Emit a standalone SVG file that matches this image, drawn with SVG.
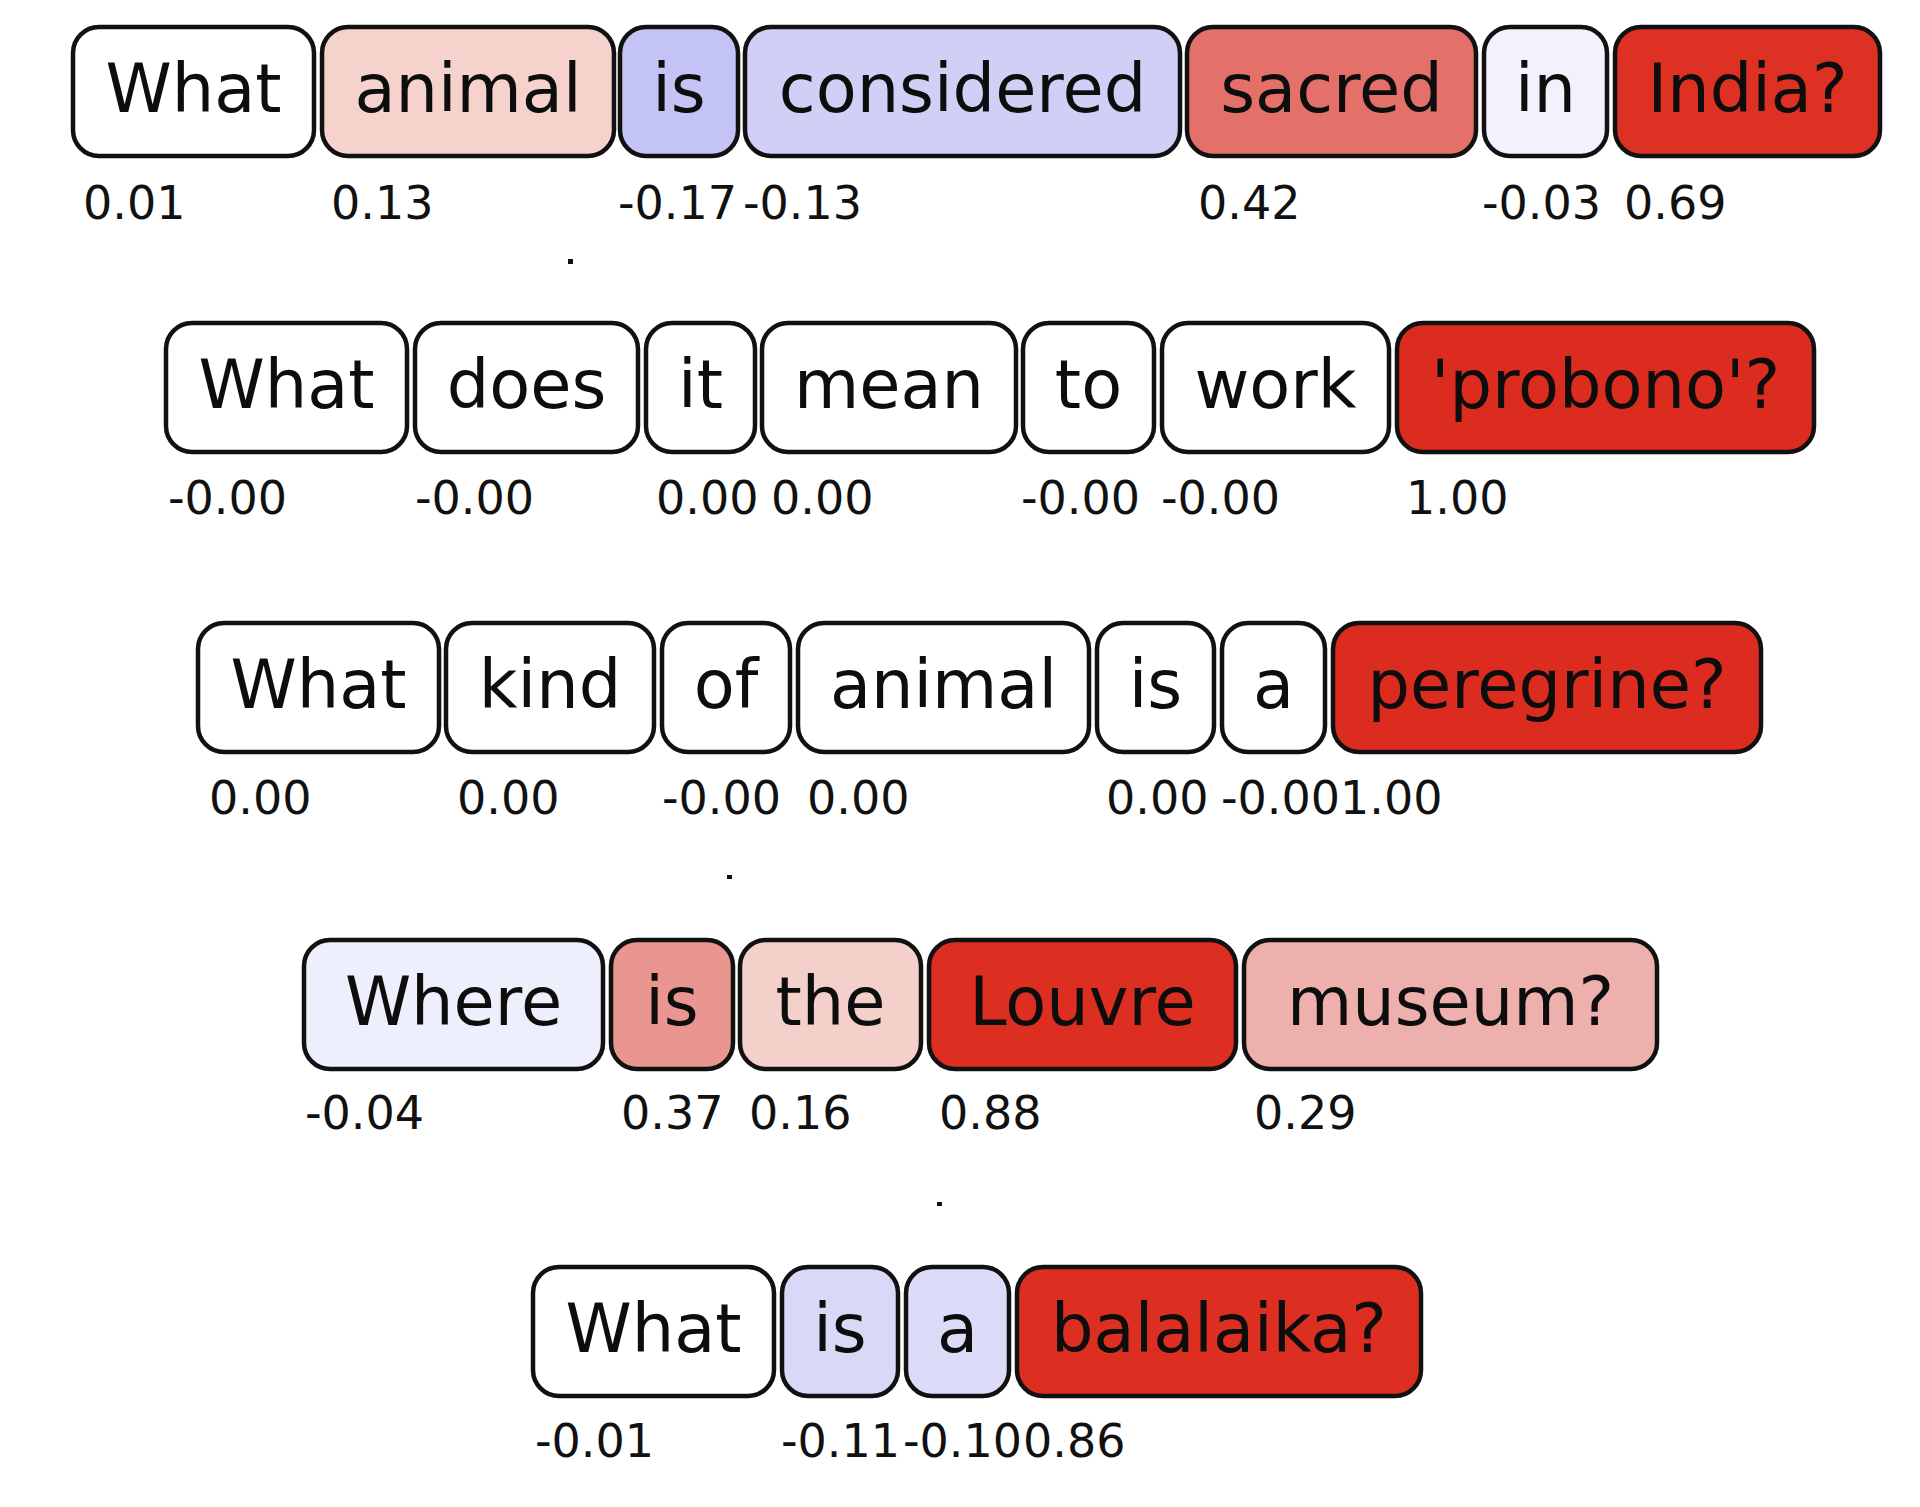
<svg xmlns="http://www.w3.org/2000/svg" width="1920" height="1507" viewBox="0 0 1920 1507">
<style>
.b{stroke:#111;stroke-width:4.5}
.w{font-family:"DejaVu Sans",sans-serif;font-size:67px;fill:#0d0d0d;text-anchor:middle}
.v{font-family:"DejaVu Sans",sans-serif;font-size:46px;fill:#111}
</style>
<rect width="1920" height="1507" fill="#fff"/>
<g id="row1">
<g id="r1-what"><rect class="b" x="73" y="27" width="241" height="129" rx="26" fill="#fff"/><text class="w" x="193.5" y="112">What</text><text class="v" x="83" y="219">0.01</text></g>
<g id="r1-animal"><rect class="b" x="322" y="27" width="292" height="129" rx="26" fill="#f5d2cc"/><text class="w" x="468" y="112">animal</text><text class="v" x="331" y="219">0.13</text></g>
<g id="r1-is"><rect class="b" x="620" y="27" width="118" height="129" rx="26" fill="#c3c4f5"/><text class="w" x="679" y="112">is</text><text class="v" x="618" y="219">-0.17</text></g>
<g id="r1-considered"><rect class="b" x="745" y="27" width="435" height="129" rx="26" fill="#d0d0f7"/><text class="w" x="962.5" y="112">considered</text><text class="v" x="743" y="219">-0.13</text></g>
<g id="r1-sacred"><rect class="b" x="1187" y="27" width="289" height="129" rx="26" fill="#e4706a"/><text class="w" x="1331.5" y="112">sacred</text><text class="v" x="1198" y="219">0.42</text></g>
<g id="r1-in"><rect class="b" x="1484" y="27" width="123" height="129" rx="26" fill="#f2f2fd"/><text class="w" x="1545.5" y="112">in</text><text class="v" x="1482" y="219">-0.03</text></g>
<g id="r1-india"><rect class="b" x="1615" y="27" width="265" height="129" rx="26" fill="#dd3124"/><text class="w" x="1747.5" y="112">India?</text><text class="v" x="1624" y="219">0.69</text></g>
</g>
<g id="row2">
<g id="r2-what"><rect class="b" x="166" y="323" width="241" height="129" rx="26" fill="#fff"/><text class="w" x="286.5" y="408">What</text><text class="v" x="168" y="514">-0.00</text></g>
<g id="r2-does"><rect class="b" x="415" y="323" width="223" height="129" rx="26" fill="#fff"/><text class="w" x="526.5" y="408">does</text><text class="v" x="415" y="514">-0.00</text></g>
<g id="r2-it"><rect class="b" x="646" y="323" width="109" height="129" rx="26" fill="#fff"/><text class="w" x="700.5" y="408">it</text><text class="v" x="656" y="514">0.00</text></g>
<g id="r2-mean"><rect class="b" x="762" y="323" width="254" height="129" rx="26" fill="#fff"/><text class="w" x="889" y="408">mean</text><text class="v" x="771" y="514">0.00</text></g>
<g id="r2-to"><rect class="b" x="1023" y="323" width="131" height="129" rx="26" fill="#fff"/><text class="w" x="1088.5" y="408">to</text><text class="v" x="1021" y="514">-0.00</text></g>
<g id="r2-work"><rect class="b" x="1162" y="323" width="227" height="129" rx="26" fill="#fff"/><text class="w" x="1275.5" y="408">work</text><text class="v" x="1161" y="514">-0.00</text></g>
<g id="r2-probono"><rect class="b" x="1397" y="323" width="417" height="129" rx="26" fill="#dc2c1f"/><text class="w" x="1605.5" y="408">'probono'?</text><text class="v" x="1406" y="514">1.00</text></g>
</g>
<g id="row3">
<g id="r3-what"><rect class="b" x="198" y="623" width="241" height="129" rx="26" fill="#fff"/><text class="w" x="318.5" y="708">What</text><text class="v" x="209" y="814">0.00</text></g>
<g id="r3-kind"><rect class="b" x="446" y="623" width="208" height="129" rx="26" fill="#fff"/><text class="w" x="550" y="708">kind</text><text class="v" x="457" y="814">0.00</text></g>
<g id="r3-of"><rect class="b" x="662" y="623" width="128" height="129" rx="26" fill="#fff"/><text class="w" x="726" y="708">of</text><text class="v" x="662" y="814">-0.00</text></g>
<g id="r3-animal"><rect class="b" x="798" y="623" width="291" height="129" rx="26" fill="#fff"/><text class="w" x="943.5" y="708">animal</text><text class="v" x="807" y="814">0.00</text></g>
<g id="r3-is"><rect class="b" x="1097" y="623" width="117" height="129" rx="26" fill="#fff"/><text class="w" x="1155.5" y="708">is</text><text class="v" x="1106" y="814">0.00</text></g>
<g id="r3-a"><rect class="b" x="1222" y="623" width="103" height="129" rx="26" fill="#fff"/><text class="w" x="1273.5" y="708">a</text><text class="v" x="1221" y="814">-0.00</text></g>
<g id="r3-peregrine"><rect class="b" x="1333" y="623" width="428" height="129" rx="26" fill="#dc2c1f"/><text class="w" x="1547" y="708">peregrine?</text><text class="v" x="1340" y="814">1.00</text></g>
</g>
<g id="row4">
<g id="r4-where"><rect class="b" x="304" y="940" width="299" height="129" rx="26" fill="#eeeffc"/><text class="w" x="453.5" y="1025">Where</text><text class="v" x="305" y="1129">-0.04</text></g>
<g id="r4-is"><rect class="b" x="611" y="940" width="122" height="129" rx="26" fill="#e8968f"/><text class="w" x="672" y="1025">is</text><text class="v" x="621" y="1129">0.37</text></g>
<g id="r4-the"><rect class="b" x="740" y="940" width="181" height="129" rx="26" fill="#f3d0c9"/><text class="w" x="830.5" y="1025">the</text><text class="v" x="749" y="1129">0.16</text></g>
<g id="r4-louvre"><rect class="b" x="929" y="940" width="307" height="129" rx="26" fill="#dc2e21"/><text class="w" x="1082.5" y="1025">Louvre</text><text class="v" x="939" y="1129">0.88</text></g>
<g id="r4-museum"><rect class="b" x="1244" y="940" width="413" height="129" rx="26" fill="#eeb0ac"/><text class="w" x="1450.5" y="1025">museum?</text><text class="v" x="1254" y="1129">0.29</text></g>
</g>
<g id="row5">
<g id="r5-what"><rect class="b" x="533" y="1267" width="241" height="129" rx="26" fill="#fff"/><text class="w" x="653.5" y="1352">What</text><text class="v" x="535" y="1457">-0.01</text></g>
<g id="r5-is"><rect class="b" x="782" y="1267" width="116" height="129" rx="26" fill="#d8d9f7"/><text class="w" x="840" y="1352">is</text><text class="v" x="781" y="1457">-0.11</text></g>
<g id="r5-a"><rect class="b" x="906" y="1267" width="103" height="129" rx="26" fill="#dcdcf8"/><text class="w" x="957.5" y="1352">a</text><text class="v" x="903" y="1457">-0.10</text></g>
<g id="r5-balalaika"><rect class="b" x="1017" y="1267" width="404" height="129" rx="26" fill="#dc2f22"/><text class="w" x="1219" y="1352">balalaika?</text><text class="v" x="1023" y="1457">0.86</text></g>
</g>
<g id="marks" fill="#111">
<rect x="568" y="259" width="5" height="5"/>
<rect x="727" y="875" width="5" height="4"/>
<rect x="937" y="1202" width="5" height="4"/>
</g>
</svg>
